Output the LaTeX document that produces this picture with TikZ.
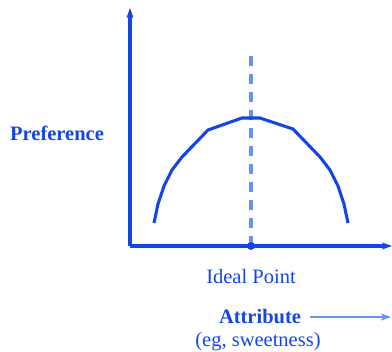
\documentclass[tikz,border=0pt]{standalone}
\usepackage{fontspec}
\setmainfont{Liberation Serif}
\usepackage{xcolor}
\usepackage{tikz}
\usetikzlibrary{
  arrows.meta,
  positioning,
  calc
}
\definecolor{AxisBlue}{HTML}{1446E6}
\definecolor{LightBlue}{HTML}{6494F4}
\tikzset{
  axis/.style={
    -{Stealth[length=10pt,width=7pt,inset=2.5pt]},
    line width=3.1pt,
    draw=AxisBlue
  },
  curve/.style={
    line width=3.1pt,
    draw=AxisBlue,
    line join=round
  },
  guide/.style={
    line width=3.1pt,
    draw=LightBlue,
    dash pattern=on 10pt off 8pt
  },
  pointer/.style={
    -{Stealth[length=10pt,width=7pt,inset=2.5pt]},
    line width=2.6pt,
    draw=LightBlue
  },
  label/.style={
    text=AxisBlue,
    font=\fontsize{20.5}{24}\selectfont,
    inner sep=0pt
  },
  title/.style={
    label,
    font=\fontsize{20.5}{24}\selectfont\bfseries
  }
}

\begin{document}
\begin{tikzpicture}[x=1pt,y=-1pt]

  \useasboundingbox (0,0) rectangle (392,352);

  \coordinate (origin) at (130,246);
  \coordinate (ytip) at (130,8);
  \coordinate (xtip) at (392,246);
  \coordinate (ideal) at (251,246);
  \coordinate (dashtop) at (251,52);

  % ideal point guide
  \draw[guide]
  (ideal) --
  (dashtop);

  % axes
  \draw[axis]
  (origin) --
  (ytip);

  \draw[axis]
  (origin) --
  (xtip);

  % preference curve
  \draw[curve]
  (154,223) -- (158,204) -- (164,186) -- (172,170) -- (182,157) --
  (208,130) -- (242,118) -- (260,118) -- (293,129) --
  (320,157) -- (330,170) -- (338,186) -- (344,204) -- (348,223);

  \fill[AxisBlue] (ideal) circle (4pt);

  \node[title] at (57,133) (preference) {
    Preference
  };

  \node[label] at (251,276) (idealpoint) {
    Ideal Point
  };

  \node[title] at (260,317) (attribute) {
    Attribute
  };

  \node[label] at (258,342) (example) {
    (eg, sweetness)
  };

  \coordinate (attrtip) at (391,317);

  \draw[pointer]
  ([xshift=9pt]attribute.east) --
  (attrtip);

\end{tikzpicture}
\end{document}
